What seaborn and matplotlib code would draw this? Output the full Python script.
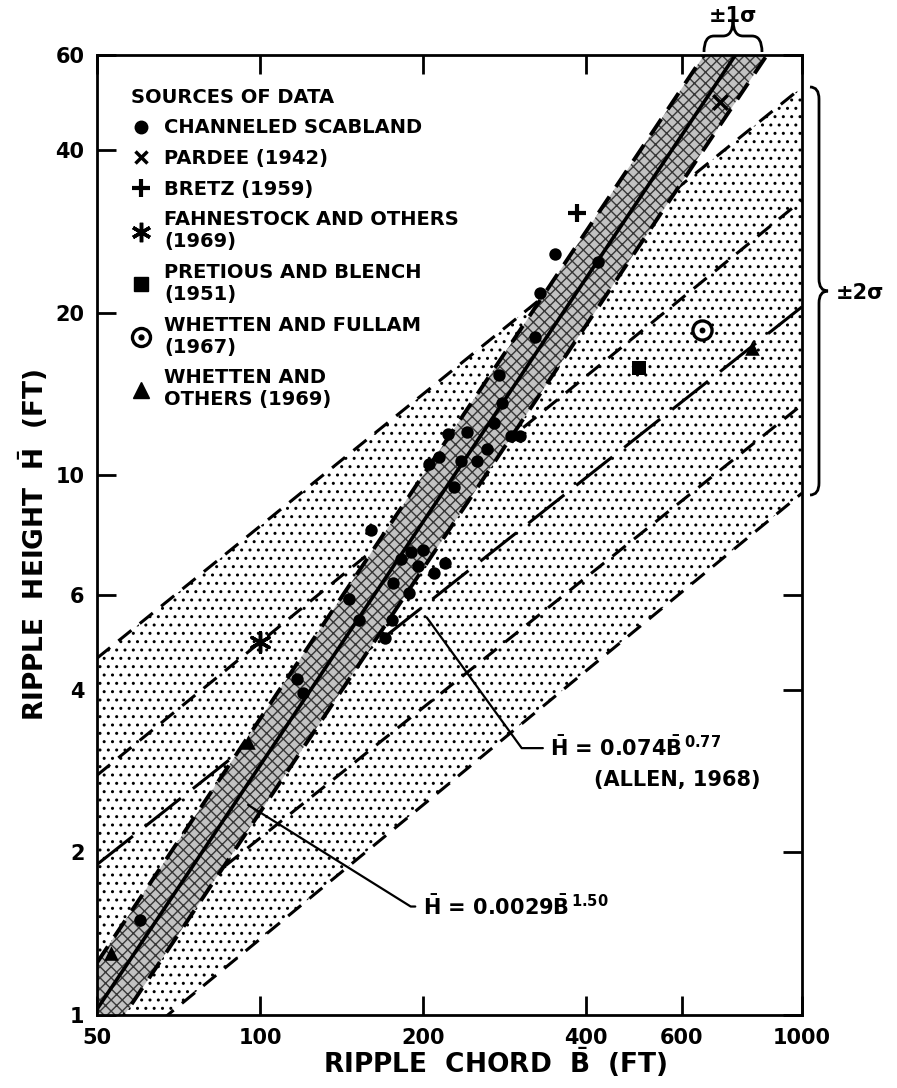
import numpy as np
import matplotlib
matplotlib.use("Agg")
import matplotlib.pyplot as plt
import seaborn as sns
from matplotlib.lines import Line2D
from matplotlib.patches import PathPatch
from matplotlib.path import Path
from matplotlib.ticker import NullLocator
from matplotlib.legend_handler import HandlerTuple

sns.set_style("ticks")
plt.rcParams["font.family"] = ["DejaVu Sans"]
plt.rcParams["font.weight"] = "bold"
plt.rcParams["mathtext.fontset"] = "dejavusans"
plt.rcParams["hatch.linewidth"] = 1.0
for key in ["text.color", "axes.labelcolor", "xtick.color", "ytick.color",
            "xtick.labelcolor", "ytick.labelcolor"]:
    plt.rcParams[key] = "black"

# ---- data ----
# fitted lines, given by their ends at B = 50 and B = 1000 ft
line_b = [50, 1000]
scab_fit_h = [1.025, 91.7]     # H = 0.0029 B^1.50
scab_up1_h = [1.25, 112.0]     # +1 sigma
scab_lo1_h = [0.84, 75.0]      # -1 sigma
allen_h = [1.9, 20.5]          # H = 0.074 B^0.77
allen_up2_h = [4.58, 52.3]
allen_up1_h = [2.78, 32.3]
allen_lo1_h = [1.22, 13.5]
allen_lo2_h = [0.78, 9.26]

# channeled scabland ripples
scab_b = [60, 117, 120, 146, 152, 160, 170, 175, 176, 182, 188, 190, 196, 200,
          205, 209, 214, 219, 222, 228, 235, 241, 251, 262, 270, 276, 280, 290,
          302, 321, 329, 350, 420]
scab_h = [1.5, 4.2, 3.95, 5.9, 5.4, 7.9, 5.0, 5.4, 6.3, 7.0, 6.05, 7.2, 6.8, 7.26,
          10.5, 6.58, 10.8, 6.87, 11.9, 9.5, 10.6, 12.0, 10.6, 11.2, 12.5, 15.3,
          13.6, 11.8, 11.8, 18.0, 21.7, 25.7, 24.8]
pardee_b, pardee_h = [706], [49.0]
bretz_b, bretz_h = [384], [30.6]
fahn_b, fahn_h = [100], [4.9]
pretious_b, pretious_h = [500], [15.8]
fullam_b, fullam_h = [655], [18.6]
whetten_b = [53, 95, 810]
whetten_h = [1.3, 3.2, 17.2]

legend_labels = ["CHANNELED SCABLAND", "PARDEE (1942)", "BRETZ (1959)",
                 "FAHNESTOCK AND OTHERS\n(1969)", "PRETIOUS AND BLENCH\n(1951)",
                 "WHETTEN AND FULLAM\n(1967)", "WHETTEN AND\nOTHERS (1969)"]
x_ticks = [50, 100, 200, 400, 600, 1000]
y_ticks = [1, 2, 4, 6, 10, 20, 40, 60]

W, H = 897, 1088
fig = plt.figure(figsize=(W / 100, H / 100), dpi=100)
ax = fig.add_axes([97 / W, 1 - 1015 / H, 705 / W, 960 / H])
ax.set_xscale("log")
ax.set_yscale("log")

# +-2 sigma region around Allen's line (sparse dots)
ax.fill_between(line_b, allen_lo2_h, allen_up2_h, facecolor="white",
                edgecolor="black", hatch="..", linewidth=0, zorder=1)
short_dash = (5.5, 3.5)
for hh in [allen_up2_h, allen_up1_h, allen_lo1_h, allen_lo2_h]:
    sns.lineplot(x=line_b, y=hh, ax=ax, color="black", lw=2.2,
                 dashes=short_dash, zorder=2)
sns.lineplot(x=line_b, y=allen_h, ax=ax, color="black", lw=2.2,
             dashes=(15, 5), zorder=2)

# +-1 sigma band around the scabland fit (dense stipple)
ax.fill_between(line_b, scab_lo1_h, scab_up1_h, facecolor="white",
                linewidth=0, zorder=3)
ax.fill_between(line_b, scab_lo1_h, scab_up1_h, facecolor="#c2c2c2",
                edgecolor="#383838", hatch="xxx", linewidth=0, zorder=3)
for hh in [scab_up1_h, scab_lo1_h]:
    sns.lineplot(x=line_b, y=hh, ax=ax, color="black", lw=2.8,
                 dashes=(5, 3), zorder=4)
sns.lineplot(x=line_b, y=scab_fit_h, ax=ax, color="black", lw=2.6, zorder=4)

# data points
sns.scatterplot(x=scab_b, y=scab_h, ax=ax, color="black", marker="o", s=80,
                linewidth=0, zorder=5)
sns.scatterplot(x=pardee_b, y=pardee_h, ax=ax, color="black", marker="x", s=110,
                linewidth=2.5, zorder=5)
sns.scatterplot(x=bretz_b, y=bretz_h, ax=ax, color="black", marker="+", s=170,
                linewidth=3, zorder=5)
sns.scatterplot(x=fahn_b, y=fahn_h, ax=ax, color="black", marker=(6, 2, 0), s=200,
                linewidth=2.5, zorder=5)
sns.scatterplot(x=pretious_b, y=pretious_h, ax=ax, color="black", marker="s", s=110,
                linewidth=0, zorder=5)
sns.scatterplot(x=fullam_b, y=fullam_h, ax=ax, marker="o", s=190, facecolor="white",
                edgecolor="black", linewidth=2.4, zorder=5)
sns.scatterplot(x=fullam_b, y=fullam_h, ax=ax, color="black", marker="o", s=18,
                linewidth=0, zorder=6)
sns.scatterplot(x=whetten_b, y=whetten_h, ax=ax, color="black", marker="^", s=110,
                linewidth=0, zorder=5)

ax.set_xlim(50, 1000)
ax.set_ylim(1, 60)
ax.set_xticks(x_ticks)
ax.set_xticklabels([str(v) for v in x_ticks])
ax.set_yticks(y_ticks)
ax.set_yticklabels([str(v) for v in y_ticks])
ax.xaxis.set_minor_locator(NullLocator())
ax.yaxis.set_minor_locator(NullLocator())
ax.tick_params(which="major", direction="in", length=14, width=2, top=True,
               right=True, labelsize=15, pad=9, color="black")
for sp in ax.spines.values():
    sp.set_linewidth(2)
    sp.set_color("black")
    sp.set_zorder(7)

ax.set_xlabel(r"RIPPLE  CHORD  $\bar{\mathbf{B}}$  (FT)", fontsize=19, fontweight="bold")
ax.set_ylabel(r"RIPPLE  HEIGHT  $\bar{\mathbf{H}}$  (FT)", fontsize=19, fontweight="bold")
ax.xaxis.set_label_coords(0.565, -0.032)
ax.yaxis.set_label_coords(-0.066, 0.49)

# legend
handles = [
    Line2D([], [], ls="none", marker="o", color="k", markersize=9),
    Line2D([], [], ls="none", marker="x", color="k", markersize=9, mew=2.5),
    Line2D([], [], ls="none", marker="+", color="k", markersize=13, mew=3),
    Line2D([], [], ls="none", marker=(6, 2, 0), color="k", markersize=14, mew=2.5),
    Line2D([], [], ls="none", marker="s", color="k", markersize=10),
    (Line2D([], [], ls="none", marker="o", mfc="white", mec="k", markersize=13, mew=2.4),
     Line2D([], [], ls="none", marker="o", color="k", markersize=3.5)),
    Line2D([], [], ls="none", marker="^", color="k", markersize=11),
]
leg = ax.legend(handles, legend_labels, title="SOURCES OF DATA", loc="upper left",
                bbox_to_anchor=(0.048, 0.966), frameon=False,
                prop={"size": 14, "weight": "bold"},
                title_fontproperties={"size": 14, "weight": "bold"},
                alignment="left", handlelength=1.0, handletextpad=0.7,
                labelspacing=0.6, borderpad=0, borderaxespad=0,
                handler_map={tuple: HandlerTuple(ndivide=1)})
leg.set_zorder(8)

# equation labels with leader lines
ax.annotate(r"$\bar{\mathbf{H}}$ = 0.074$\bar{\mathbf{B}}^{\,\mathbf{0.77}}$",
            xy=(203, 5.45), xycoords="data", xytext=(0.643, 0.278),
            textcoords="axes fraction", ha="left", va="center", fontsize=15,
            arrowprops=dict(arrowstyle="-", color="k", lw=1.6, shrinkA=3, shrinkB=0,
                            relpos=(0, 0.5),
                            connectionstyle="angle,angleA=0,angleB=-54"),
            zorder=9)
ax.text(0.705, 0.245, "(ALLEN, 1968)", transform=ax.transAxes, ha="left",
        va="center", fontsize=15, zorder=9)
ax.annotate(r"$\bar{\mathbf{H}}$ = 0.0029$\bar{\mathbf{B}}^{\,\mathbf{1.50}}$",
            xy=(95, 2.45), xycoords="data", xytext=(0.462, 0.113),
            textcoords="axes fraction", ha="left", va="center", fontsize=15,
            arrowprops=dict(arrowstyle="-", color="k", lw=1.6, shrinkA=3, shrinkB=0,
                            relpos=(0, 0.5),
                            connectionstyle="angle,angleA=0,angleB=-32"),
            zorder=9)


# curly braces for the sigma ranges
def draw_brace(p0, p1, depth, q):
    p0 = np.array(p0, float)
    p1 = np.array(p1, float)
    L = np.hypot(*(p1 - p0))
    e = (p1 - p0) / L
    n = np.array([e[1], -e[0]])

    def pt(u, v):
        x, y = p0 + u * e + v * n
        return (x / W, 1 - y / H)

    h = depth / 2
    verts = [pt(0, 0), pt(0, h), pt(q, h), pt(L / 2 - q, h), pt(L / 2, h),
             pt(L / 2, depth), pt(L / 2, h), pt(L / 2 + q, h), pt(L - q, h),
             pt(L, h), pt(L, 0)]
    codes = [Path.MOVETO, Path.CURVE3, Path.CURVE3, Path.LINETO, Path.CURVE3,
             Path.CURVE3, Path.CURVE3, Path.CURVE3, Path.LINETO, Path.CURVE3,
             Path.CURVE3]
    fig.add_artist(PathPatch(Path(verts, codes), transform=fig.transFigure,
                             fill=False, lw=2, edgecolor="black"))


draw_brace((704, 52), (762, 52), 32, 10)
draw_brace((810, 87), (810, 495), 18, 12)
fig.text(733 / W, 1 - 16 / H, "±1σ", ha="center", va="center", fontsize=15)
fig.text(836 / W, 1 - 293 / H, "±2σ", ha="left", va="center", fontsize=15)

fig.savefig("out.png", dpi=100)
